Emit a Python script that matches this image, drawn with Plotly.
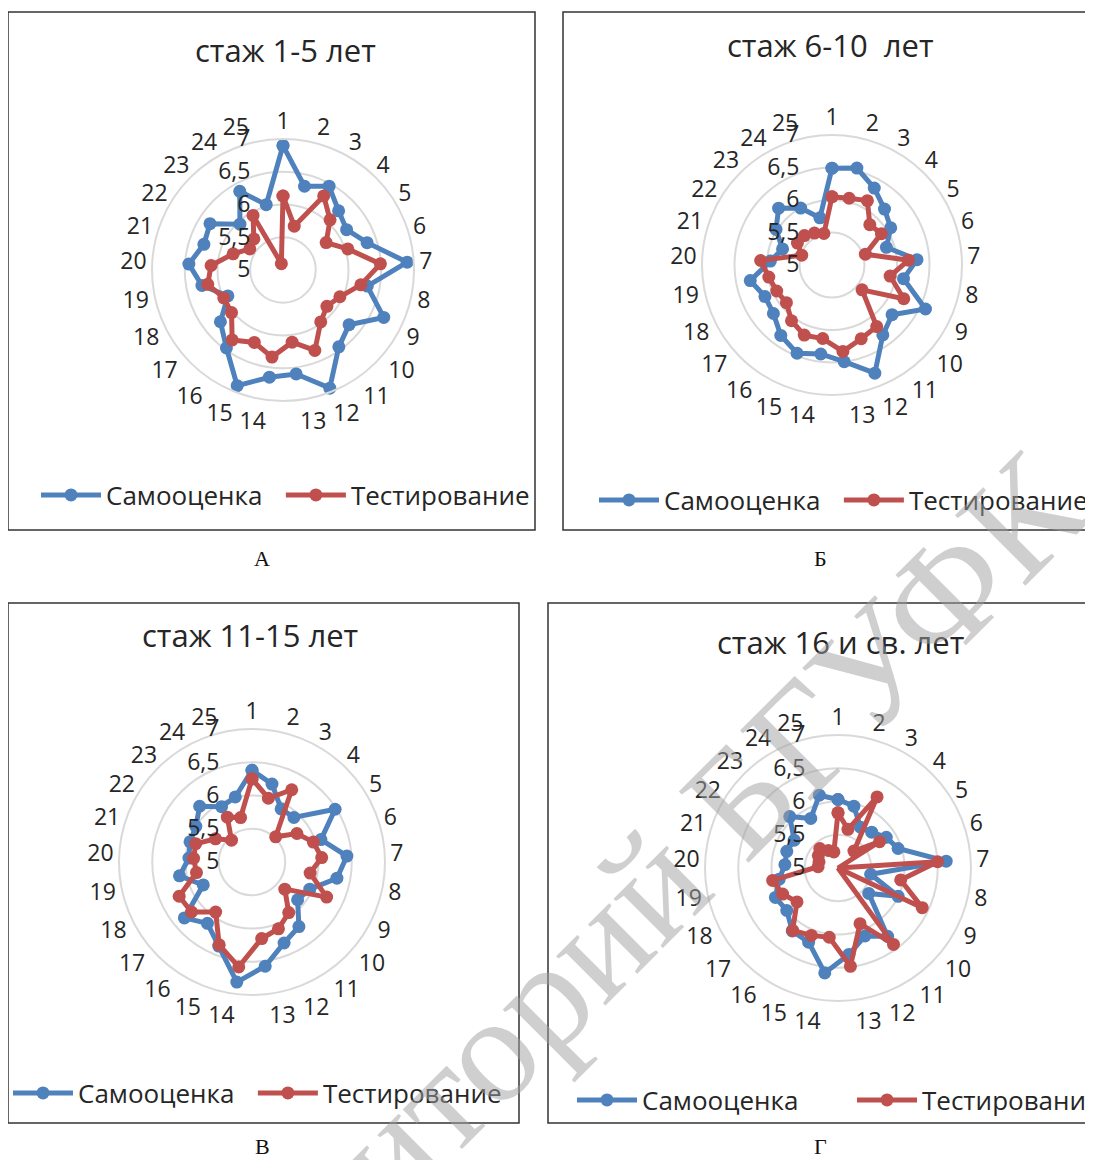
import plotly.graph_objects as go

# page offset of the plot div (browser body margin)
OFF = 8
W, H = 1093 - OFF, 1160 - OFF

categories = [str(i) for i in range(1, 26)]
radial_ticks = [5, 5.5, 6, 6.5, 7]
radial_tick_text = ["5", "5,5", "6", "6,5", "7"]
series_names = ["Самооценка", "Тестирование"]
titles = ["стаж 1-5 лет", "стаж 6-10  лет", "стаж 11-15 лет", "стаж 16 и св. лет"]
captions = ["А", "Б", "В", "Г"]

samo_A = [6.90, 6.32, 6.46, 6.24, 6.15, 6.35, 6.90, 6.31, 6.70, 6.31, 6.45, 6.94, 6.60,
          6.65, 6.90, 6.47, 6.24, 5.93, 6.26, 6.44, 6.27, 6.32, 5.96, 6.37, 6.03]
test_A = [6.13, 5.69, 6.29, 6.05, 5.78, 6.04, 6.49, 6.21, 5.96, 5.87, 5.98, 6.32, 6.11,
          6.34, 6.19, 6.32, 6.02, 6.00, 6.17, 6.10, 5.80, 5.60, 5.65, 5.95, 5.10]

samo_B = [6.49, 6.54, 6.35, 6.18, 6.07, 5.88, 6.31, 6.12, 6.59, 6.20, 6.33, 6.79, 6.50,
          6.38, 6.46, 6.34, 6.17, 6.14, 6.28, 5.95, 5.80, 6.02, 6.20, 6.00, 5.75]
test_B = [6.05, 6.06, 6.13, 5.85, 5.90, 5.54, 6.18, 5.91, 6.22, 5.60, 6.17, 6.22, 6.34,
          6.14, 6.16, 6.06, 5.91, 5.94, 5.99, 6.10, 5.49, 5.63, 5.62, 5.56, 5.50]

samo_C = [6.38, 6.21, 5.91, 5.92, 6.48, 6.09, 6.43, 6.30, 5.96, 5.89, 6.20, 6.31, 6.58,
          6.82, 6.36, 6.14, 6.32, 5.81, 6.11, 5.95, 5.98, 6.00, 6.15, 5.95, 6.01]
test_C = [6.25, 5.99, 6.24, 5.52, 5.80, 5.97, 6.05, 5.89, 6.24, 5.64, 5.94, 6.08, 6.16,
          6.59, 6.34, 5.93, 6.18, 6.21, 5.85, 5.88, 5.89, 5.65, 5.45, 5.77, 5.69]

samo_D = [6.03, 5.96, 5.70, 5.74, 5.86, 5.95, 6.63, 5.50, 6.00, 5.60, 6.27, 6.10, 6.31,
          6.59, 6.20, 6.17, 6.00, 6.04, 5.90, 5.80, 5.81, 5.78, 6.06, 5.85, 6.13]
test_D = [5.83, 5.60, 6.22, 5.35, 5.74, 4.90, 6.50, 5.96, 6.40, 4.75, 6.42, 5.90, 6.49,
          6.05, 6.09, 6.16, 5.80, 5.92, 6.00, 5.30, 5.30, 5.35, 5.40, 5.30, 5.25]

panels_samo = [samo_A, samo_B, samo_C, samo_D]
panels_test = [test_A, test_B, test_C, test_D]

BLUE = "#4F81BD"
RED = "#C0504D"
GRID = "#d9d9d9"
TXT = "#262626"
FONT = "Open Sans"
NBSP = "\u00a0"

# layout geometry (page pixels)
centers = [(283, 270), (832, 265), (252, 862), (838, 868)]
radii = [131, 130, 133, 133]
boxes = [(8, 12, 535, 530), (563, 12, 1092, 530), (8, 603, 519, 1123), (548, 603, 1092, 1123)]
title_pos = [(285, 50), (830, 45), (250, 635), (840, 642)]
legend_pos = [(36, 495), (594, 500), (-6, 1093), (572, 1100)]
legend_entry = [0, 0, 0, 205]
legend_pad = [2, 2, 2, 0]
caption_pos = [(262, 558), (820, 558), (262, 1146), (820, 1146)]


def px(x):
    return (x - OFF) / W


def py(y):
    return 1 - (y - OFF) / H


fig = go.Figure()
layout = dict(width=W, height=H, margin=dict(l=0, r=0, t=0, b=0, autoexpand=False),
              paper_bgcolor="white", plot_bgcolor="white",
              font=dict(family=FONT, color=TXT), shapes=[], annotations=[])

for i in range(4):
    pname = "polar" if i == 0 else f"polar{i + 1}"
    lname = "legend" if i == 0 else f"legend{i + 1}"
    names = [series_names[0] + NBSP * legend_pad[i], series_names[1]]
    for name, vals, col in [(names[0], panels_samo[i], BLUE),
                            (names[1], panels_test[i], RED)]:
        fig.add_trace(go.Scatterpolar(
            r=vals + [vals[0]], theta=categories + [categories[0]],
            mode="lines+markers", name=name, subplot=pname, legend=lname,
            line=dict(color=col, width=5), marker=dict(color=col, size=13),
            cliponaxis=False, showlegend=True))
    cx, cy = centers[i]
    R = radii[i]
    layout[pname] = dict(
        domain=dict(x=[px(cx - R), px(cx + R)], y=[py(cy + R), py(cy - R)]),
        bgcolor="rgba(0,0,0,0)",
        radialaxis=dict(range=[5, 7], tickvals=radial_ticks, ticktext=radial_tick_text,
                        angle=90, side="counterclockwise", showline=False,
                        ticks="outside", ticklen=24, tickcolor="rgba(0,0,0,0)",
                        gridcolor=GRID, gridwidth=2, tickfont=dict(size=23, color=TXT),
                        tickangle=90),
        angularaxis=dict(type="category", categoryarray=categories, direction="clockwise",
                         rotation=90, showgrid=False, showline=True, linecolor=GRID,
                         linewidth=2, ticks="", tickfont=dict(size=23, color=TXT)),
    )
    lx, ly = legend_pos[i]
    leg = dict(orientation="h", x=max(px(lx), 0), y=py(ly), xref="container", yref="container",
               xanchor="left", yanchor="middle",
               font=dict(size=26, color=TXT, family=FONT), itemwidth=60,
               bgcolor="rgba(0,0,0,0)", tracegroupgap=0)
    if legend_entry[i]:
        leg.update(entrywidth=legend_entry[i], entrywidthmode="pixels")
    layout[lname] = leg
    x0, y0, x1, y1 = boxes[i]
    layout["shapes"].append(dict(type="rect", xref="paper", yref="paper",
                                 x0=px(x0), x1=px(x1), y0=py(y1), y1=py(y0),
                                 line=dict(color="#333333", width=1.5), layer="below"))
    tx, ty = title_pos[i]
    layout["annotations"].append(dict(text=titles[i], x=px(tx), y=py(ty), xref="paper", yref="paper",
                                      showarrow=False, xanchor="center", yanchor="middle",
                                      font=dict(size=31, color=TXT, family=FONT)))
    capx, capy = caption_pos[i]
    layout["annotations"].append(dict(text=captions[i], x=px(capx), y=py(capy), xref="paper", yref="paper",
                                      showarrow=False, xanchor="center", yanchor="middle",
                                      font=dict(size=22, color="#111111", family="Liberation Serif")))

# watermark
layout["annotations"].append(dict(text="Репозиторий БГУФК", x=px(578), y=py(961), xref="paper", yref="paper",
                                  showarrow=False, xanchor="center", yanchor="middle", textangle=-45,
                                  font=dict(size=152, color="rgba(160,160,160,0.5)", family="Liberation Serif")))

fig.update_layout(**layout)
fig.write_html("out.html")
